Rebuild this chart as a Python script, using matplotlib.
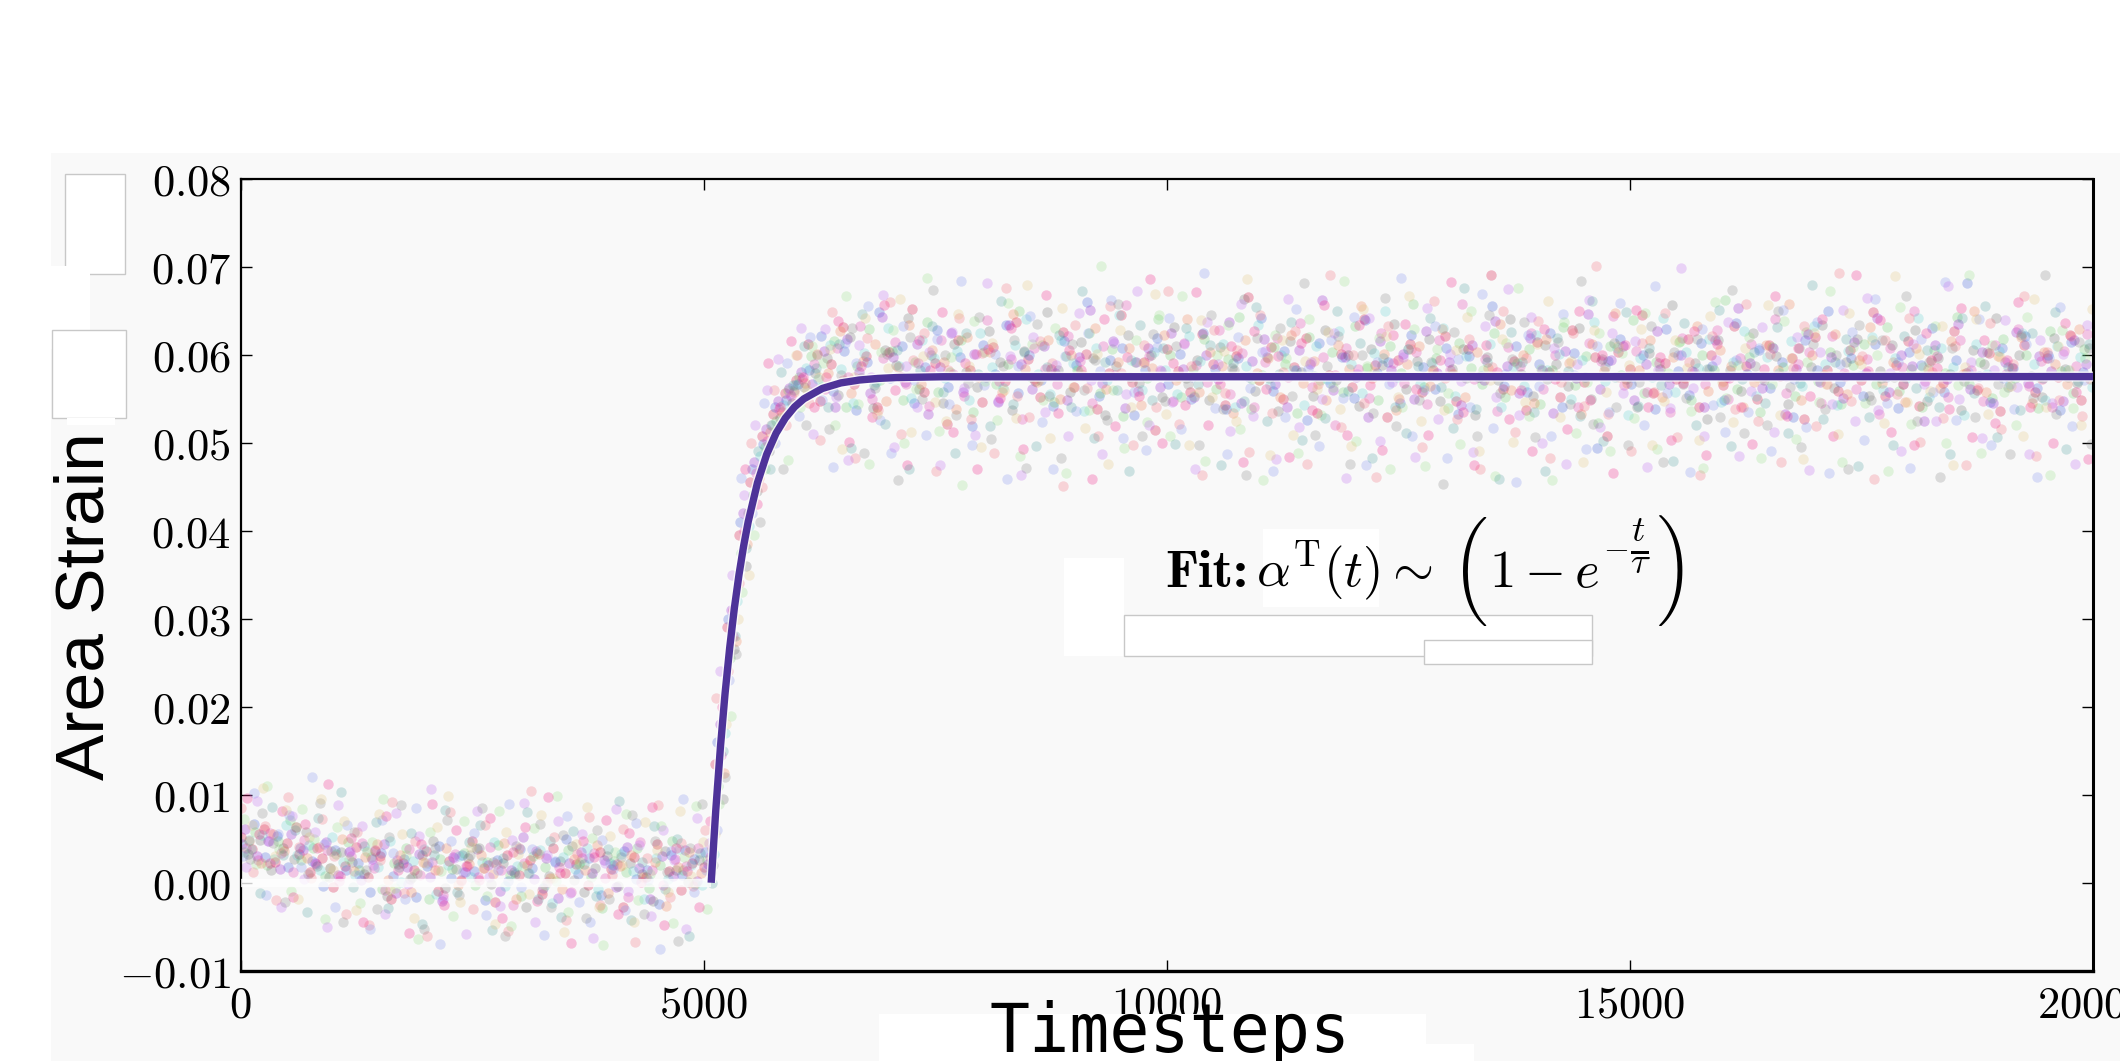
import numpy as np
import matplotlib
matplotlib.use('Agg')
import matplotlib.pyplot as plt
from matplotlib.patches import Rectangle
import matplotlib.patheffects as pe

plt.rcParams['mathtext.fontset'] = 'cm'

# ---------------- data ----------------
# sampling grid (timesteps) shared by all runs, each run sampled with its own offset
timesteps = np.arange(0, 20000, 125)
sample_offsets = [0, 16, 31, 47, 62, 78, 94, 109,
                  8, 23, 39, 55, 70, 86, 102, 117]

# area strain of each run, in units of 1e-4
run_crimson = [
    52, 38, 61, 24, 45, 33, 12, 28, -5, 19,
    41, 7, 30, -18, 22, 14, 36, -9, 25, 3,
    48, 17, -22, 31, 9, 26, -13, 40, 11, 21,
    -3, 35, 16, -27, 29, 6, 44, 13, -8, 23,
    18, 135, 290, 395, 455, 508, 532, 556, 571, 612,
    547, 589, 631, 566, 598, 540, 603, 575, 652, 558,
    590, 521, 617, 583, 546, 609, 570, 637, 595, 552,
    584, 626, 563, 601, 538, 579, 645, 569, 592, 514,
    606, 581, 557, 623, 589, 543, 598, 665, 571, 609,
    550, 586, 619, 534, 577, 601, 563, 640, 588, 529,
    594, 612, 558, 583, 621, 547, 606, 575, 690, 561,
    593, 537, 614, 580, 552, 628, 569, 597, 508, 603,
    584, 645, 556, 590, 572, 618, 541, 599, 565, 633,
    587, 549, 611, 576, 596, 527, 620, 582, 559, 605,
    571, 648, 553, 588, 615, 542, 594, 568, 627, 579,
    560, 602, 536, 585, 611, 557, 596, 574, 622, 548]
run_blue = [
    44, 67, 29, 53, 18, 40, 25, -4, 37, 15,
    22, -11, 34, 8, 27, -16, 19, 42, 5, 31,
    13, -20, 26, 2, 38, 17, -6, 24, 50, 10,
    28, -14, 20, 36, 4, 15, -24, 32, 9, 27,
    35, 160, 300, 410, 470, 498, 540, 548, 566, 583,
    621, 559, 604, 537, 592, 648, 573, 610, 545, 586,
    628, 563, 597, 519, 611, 578, 634, 556, 599, 571,
    542, 615, 588, 660, 553, 594, 607, 531, 582, 619,
    567, 601, 549, 625, 584, 538, 596, 574, 642, 559,
    604, 582, 526, 613, 568, 597, 551, 639, 579, 592,
    545, 622, 586, 561, 607, 533, 598, 576, 655, 564,
    610, 557, 589, 624, 541, 602, 575, 494, 593, 618,
    566, 600, 538, 629, 581, 554, 613, 587, 548, 636,
    578, 605, 562, 591, 529, 617, 583, 650, 569, 596,
    553, 612, 574, 539, 603, 588, 630, 557, 594, 681,
    576, 546, 608, 585, 621, 562, 599, 537, 614, 580]
run_green = [
    35, 58, 20, 47, 71, 26, 39, 8, 33, 46,
    14, 29, -7, 23, 40, 11, -19, 27, 16, 34,
    -2, 24, 43, 9, -15, 30, 18, 2, 37, 21,
    6, -29, 25, 12, 39, -6, 20, 47, 14, -1,
    26, 110, 255, 375, 440, 495, 525, 560, 575, 598,
    563, 615, 540, 587, 629, 571, 604, 548, 592, 637,
    558, 580, 616, 535, 603, 567, 589, 650, 574, 611,
    546, 598, 582, 625, 556, 606, 530, 591, 573, 640,
    600, 552, 584, 618, 561, 595, 643, 538, 577, 609,
    589, 534, 620, 571, 603, 557, 632, 585, 548, 610,
    579, 657, 563, 596, 539, 613, 585, 567, 624, 552,
    590, 606, 544, 583, 631, 565, 598, 522, 610, 577,
    639, 556, 592, 575, 614, 548, 600, 583, 662, 561,
    597, 535, 609, 586, 553, 626, 570, 603, 544, 588,
    612, 567, 631, 559, 584, 540, 605, 579, 643, 566,
    592, 551, 618, 573, 600, 539, 627, 581, 556, 606]
run_purple = [
    61, 30, 48, 16, 55, 37, 22, 46, 9, 35,
    3, 27, 44, -12, 18, 33, 6, -21, 29, 12,
    38, 20, -9, 15, 52, 4, 28, -17, 23, 35,
    11, 26, -5, 41, 17, -19, 30, 8, 37, 2,
    21, 180, 310, 420, 478, 515, 547, 562, 580, 566,
    604, 541, 618, 580, 556, 643, 597, 569, 612, 532,
    586, 624, 558, 601, 575, 546, 634, 589, 561, 610,
    579, 548, 597, 651, 568, 615, 539, 591, 607, 563,
    624, 584, 552, 600, 572, 637, 545, 593, 618, 566,
    540, 605, 589, 662, 560, 597, 574, 529, 615, 583,
    601, 550, 627, 579, 592, 543, 611, 571, 638, 587,
    556, 619, 582, 534, 604, 573, 646, 561, 594, 610,
    548, 589, 627, 566, 599, 581, 540, 617, 575, 653,
    590, 562, 608, 533, 584, 623, 569, 597, 551, 614,
    579, 641, 558, 600, 587, 524, 611, 572, 635, 561,
    603, 545, 592, 626, 568, 598, 581, 547, 617, 589]
run_magenta = [
    40, 26, 57, 34, 12, 49, 21, 37, 2, 30,
    45, 17, -8, 26, 38, 9, 24, -14, 33, 19,
    7, 41, 15, -25, 22, 36, 1, 18, -11, 28,
    34, 5, 21, -16, 46, 14, -2, 27, 19, 39,
    29, 145, 280, 400, 465, 502, 538, 553, 572, 589,
    561, 608, 575, 633, 549, 596, 614, 566, 590, 542,
    617, 578, 553, 601, 639, 570, 595, 527, 608, 584,
    566, 621, 593, 545, 610, 577, 656, 559, 598, 581,
    547, 613, 588, 569, 628, 555, 602, 541, 592, 619,
    575, 636, 563, 597, 520, 607, 584, 551, 624, 590,
    568, 603, 544, 617, 583, 658, 572, 595, 536, 609,
    587, 625, 561, 600, 576, 541, 613, 593, 644, 565,
    604, 558, 590, 535, 619, 580, 567, 628, 549, 596,
    612, 574, 640, 556, 589, 603, 545, 621, 579, 561,
    595, 532, 608, 586, 650, 570, 598, 552, 616, 583,
    547, 611, 578, 629, 564, 593, 540, 604, 587, 623]
run_gray = [
    33, 49, 14, 40, 27, 58, 19, 6, 35, 24,
    10, 36, -15, 21, 4, 31, 47, -6, 16, 28,
    39, -1, 23, 12, -28, 34, 8, 25, 42, -10,
    17, 30, -4, 22, 10, -21, 36, 15, 1, 26,
    12, 95, 265, 360, 445, 490, 528, 545, 563, 579,
    596, 554, 620, 573, 539, 605, 588, 641, 561, 599,
    545, 612, 580, 563, 627, 591, 537, 604, 570, 648,
    582, 557, 614, 596, 531, 587, 622, 568, 600, 552,
    631, 573, 594, 548, 609, 585, 663, 559, 597, 536,
    615, 580, 553, 628, 571, 599, 542, 606, 588, 635,
    561, 593, 618, 547, 584, 606, 531, 597, 571, 640,
    578, 553, 611, 589, 564, 630, 549, 595, 613, 572,
    540, 602, 584, 656, 567, 590, 527, 616, 583, 559,
    625, 571, 598, 544, 607, 586, 634, 562, 592, 618,
    553, 581, 611, 566, 628, 547, 596, 578, 537, 605,
    589, 642, 563, 600, 576, 552, 619, 584, 568, 608]
run_orange = [
    47, 22, 55, 36, 63, 28, 41, 17, 50, 13,
    29, 44, 3, 32, -10, 24, 15, 39, -3, 21,
    31, 10, 45, -18, 20, 33, 5, -7, 27, 14,
    43, -12, 19, 32, 7, 24, -26, 18, 35, 11,
    40, 125, 275, 385, 460, 512, 535, 558, 568, 601,
    579, 627, 556, 593, 612, 547, 586, 634, 566, 605,
    591, 538, 620, 575, 603, 557, 646, 584, 569, 616,
    549, 599, 577, 630, 561, 592, 608, 543, 585, 622,
    571, 640, 558, 603, 587, 534, 616, 579, 596, 552,
    622, 568, 593, 548, 611, 584, 655, 573, 601, 537,
    589, 610, 564, 629, 578, 552, 603, 585, 635, 560,
    599, 545, 618, 576, 590, 533, 612, 581, 647, 568,
    583, 616, 552, 597, 573, 633, 559, 605, 587, 541,
    569, 611, 582, 658, 548, 600, 577, 623, 555, 594,
    631, 568, 592, 546, 607, 584, 562, 615, 578, 650,
    558, 598, 574, 620, 545, 603, 589, 566, 629, 572]
run_cyan = [
    38, 54, 27, 66, 31, 43, 15, 52, 24, 9,
    36, 18, 47, 1, 25, 38, -13, 20, 30, 7,
    24, 46, -4, 19, 11, 37, -23, 29, 16, 40,
    -7, 22, 33, 13, -18, 28, 4, 38, 20, -3,
    33, 170, 320, 405, 485, 520, 543, 565, 585, 572,
    611, 584, 545, 602, 569, 630, 587, 551, 616, 596,
    573, 604, 548, 625, 586, 562, 611, 640, 578, 555,
    617, 590, 536, 608, 571, 645, 594, 560, 603, 582,
    555, 621, 593, 576, 612, 541, 587, 634, 565, 599,
    582, 543, 610, 572, 627, 589, 556, 602, 649, 574,
    606, 567, 590, 630, 553, 598, 575, 612, 540, 586,
    564, 622, 583, 601, 550, 594, 637, 570, 608, 531,
    596, 575, 641, 558, 603, 585, 618, 546, 592, 627,
    553, 597, 579, 615, 564, 633, 589, 543, 604, 576,
    620, 560, 596, 573, 641, 552, 607, 586, 531, 612,
    578, 604, 566, 624, 589, 548, 610, 582, 597, 563]
run_salmon = [
    85, 12, 64, -20, 97, 41, 5, 73, 30, -35,
    58, -48, 26, 92, -12, 47, -61, 15, 80, 2,
    -30, 66, 21, -55, 39, 104, -8, 52, -42, 33,
    75, -25, 9, 61, -67, 28, 88, -16, 45, -4,
    60, 210, 240, 340, 500, 450, 560, 520, 600, 545,
    503, 648, 571, 482, 619, 537, 660, 510, 594, 625,
    468, 583, 641, 527, 602, 488, 676, 553, 529, 615,
    590, 451, 634, 562, 508, 655, 579, 497, 611, 540,
    672, 521, 587, 463, 628, 556, 605, 489, 645, 534,
    580, 627, 476, 566, 690, 518, 599, 545, 461, 632,
    550, 606, 495, 661, 573, 527, 618, 470, 586, 649,
    512, 596, 638, 483, 569, 625, 542, 701, 533, 575,
    491, 613, 558, 647, 506, 592, 463, 621, 570, 538,
    657, 524, 601, 478, 585, 633, 519, 566, 693, 547,
    598, 459, 616, 555, 642, 501, 580, 528, 610, 474,
    562, 636, 515, 589, 667, 485, 603, 548, 621, 530]
run_skyblue = [
    30, 102, -14, 55, 77, 18, 120, 44, -27, 66,
    9, -52, 71, 34, -18, 85, 23, -70, 48, 12,
    57, -37, 14, 90, -5, 38, -59, 25, 76, -22,
    -44, 49, 16, -31, 68, 3, -75, 36, 95, -11,
    15, 60, 230, 460, 420, 545, 500, 590, 530, 620,
    548, 472, 613, 590, 655, 526, 488, 632, 571, 509,
    618, 544, 683, 497, 565, 601, 459, 587, 644, 523,
    470, 598, 536, 624, 581, 662, 505, 558, 492, 609,
    641, 515, 575, 693, 539, 487, 620, 562, 603, 468,
    529, 652, 584, 496, 617, 551, 643, 475, 592, 566,
    687, 508, 560, 633, 482, 595, 541, 669, 517, 578,
    455, 622, 564, 508, 646, 577, 493, 610, 535, 659,
    574, 520, 678, 556, 600, 467, 629, 543, 512, 594,
    535, 607, 490, 651, 572, 518, 637, 466, 589, 626,
    503, 663, 545, 592, 471, 618, 557, 682, 526, 580,
    640, 497, 573, 538, 612, 461, 596, 654, 519, 571]
run_lightgreen = [
    72, 21, 110, 38, -9, 84, 50, -41, 63, 27,
    -23, 46, 95, -6, 31, -64, 58, 13, -38, 70,
    40, -15, 82, -49, 19, 62, -2, 99, -33, 24,
    51, -71, 35, 78, -20, 10, 65, -46, 29, 87,
    -30, 90, 190, 330, 395, 470, 515, 480, 540, 610,
    590, 520, 667, 544, 476, 603, 628, 499, 561, 687,
    513, 597, 452, 638, 570, 526, 659, 485, 612, 548,
    630, 466, 581, 537, 701, 560, 494, 616, 523, 645,
    507, 666, 553, 479, 599, 634, 516, 572, 457, 622,
    596, 488, 640, 531, 563, 684, 502, 587, 619, 470,
    541, 629, 473, 606, 556, 498, 650, 582, 462, 613,
    676, 530, 584, 457, 637, 511, 569, 625, 490, 602,
    528, 647, 493, 579, 615, 536, 471, 660, 551, 588,
    620, 482, 567, 638, 504, 592, 546, 672, 478, 609,
    545, 600, 468, 654, 521, 586, 633, 499, 565, 690,
    488, 611, 557, 520, 643, 575, 463, 628, 539, 596]
run_violet = [
    18, 93, 47, -28, 76, 4, 58, -50, 88, 36,
    64, 20, -36, 79, -1, 53, 107, -19, 28, -58,
    81, 7, -26, 49, 91, -45, 32, 70, -12, 55,
    -63, 22, 84, -9, 43, -38, 60, 26, -52, 74,
    45, 240, 350, 440, 520, 560, 595, 555, 630, 510,
    629, 552, 480, 611, 574, 668, 495, 587, 540, 603,
    475, 626, 562, 509, 681, 547, 598, 463, 620, 535,
    588, 508, 647, 571, 487, 613, 555, 672, 520, 583,
    546, 612, 470, 637, 589, 513, 658, 530, 604, 481,
    663, 518, 592, 549, 624, 460, 578, 641, 502, 569,
    597, 484, 653, 527, 601, 570, 489, 632, 552, 675,
    531, 643, 500, 607, 476, 589, 662, 518, 624, 556,
    615, 472, 583, 539, 698, 562, 507, 594, 637, 485,
    559, 631, 512, 576, 620, 469, 603, 544, 651, 525,
    664, 537, 579, 490, 612, 566, 524, 678, 549, 591,
    505, 582, 639, 563, 487, 616, 545, 601, 476, 634]
run_deeppink = [
    96, 55, 23, 81, -16, 67, 39, 112, 8, 51,
    -44, 37, 76, 14, -57, 44, 89, -25, 60, 19,
    3, 74, -40, 35, 63, -21, 97, 11, -68, 47,
    29, 71, -35, 56, 1, 86, -48, 40, 13, -27,
    70, 200, 310, 470, 430, 590, 540, 615, 575, 540,
    574, 638, 501, 587, 529, 656, 560, 474, 617, 583,
    648, 512, 590, 470, 606, 551, 630, 493, 572, 668,
    534, 605, 583, 459, 640, 519, 597, 553, 686, 500,
    590, 543, 671, 520, 566, 610, 478, 627, 561, 598,
    484, 613, 537, 656, 577, 509, 634, 565, 492, 622,
    635, 561, 509, 594, 682, 535, 474, 611, 580, 527,
    560, 491, 629, 572, 516, 649, 548, 599, 465, 611,
    651, 541, 597, 503, 568, 627, 486, 612, 573, 540,
    498, 584, 667, 530, 608, 553, 640, 507, 576, 690,
    581, 639, 512, 567, 497, 624, 585, 538, 653, 506,
    617, 522, 594, 660, 541, 572, 499, 636, 558, 481]
run_teal = [
    49, -12, 86, 31, 60, -33, 74, 17, 103, -5,
    42, 69, -29, 18, 57, -47, 31, 83, -10, 46,
    66, -54, 28, 10, 80, -18, 47, -39, 59, 21,
    -15, 38, 93, -42, 24, 64, -7, 50, -60, 34,
    0, 150, 280, 380, 490, 470, 580, 565, 610, 585,
    540, 612, 494, 646, 565, 521, 605, 470, 583, 632,
    557, 488, 624, 578, 519, 661, 544, 603, 496, 586,
    622, 541, 672, 505, 592, 560, 468, 634, 548, 607,
    498, 630, 566, 611, 475, 590, 547, 654, 525, 578,
    637, 503, 576, 528, 649, 559, 613, 482, 596, 540,
    511, 587, 642, 563, 517, 676, 538, 591, 459, 626,
    592, 535, 468, 619, 581, 530, 661, 502, 574, 648,
    542, 608, 565, 479, 636, 520, 584, 651, 496, 572,
    603, 545, 631, 511, 568, 679, 527, 592, 618, 473,
    529, 573, 497, 621, 562, 605, 540, 487, 641, 556,
    655, 506, 586, 537, 624, 573, 648, 493, 570, 612]
run_darkgray = [
    27, 79, 45, -22, 63, 10, 91, 36, -45, 58,
    15, -30, 52, 88, 6, -53, 40, 71, -14, 32,
    85, 24, -61, 42, 11, 67, -27, 54, 3, -40,
    60, -18, 29, 77, -36, 48, 12, -66, 39, 90,
    20, 120, 260, 420, 410, 520, 470, 560, 520, 600,
    515, 577, 630, 488, 562, 601, 458, 620, 549, 673,
    599, 531, 568, 643, 504, 587, 616, 471, 635, 553,
    482, 612, 560, 594, 526, 658, 575, 508, 623, 547,
    610, 567, 497, 645, 538, 582, 463, 619, 573, 630,
    553, 681, 509, 587, 621, 476, 600, 534, 664, 519,
    606, 548, 592, 453, 626, 573, 508, 645, 556, 595,
    637, 506, 572, 614, 544, 683, 521, 586, 540, 497,
    569, 632, 478, 603, 551, 618, 584, 529, 673, 511,
    587, 520, 649, 563, 495, 612, 538, 599, 470, 634,
    548, 616, 575, 667, 524, 592, 461, 607, 570, 529,
    603, 567, 487, 622, 551, 690, 532, 575, 614, 498]
run_tan = [
    66, 108, 30, 83, -19, 52, 95, 14, 70, -31,
    35, 78, -8, 55, -40, 22, 63, 98, -22, 41,
    17, -47, 58, 33, -13, 77, 5, -56, 44, 86,
    -28, 53, 20, -44, 69, 37, -11, 82, 8, 46,
    55, 180, 300, 350, 470, 500, 530, 600, 560, 575,
    606, 493, 574, 641, 532, 585, 663, 512, 598, 546,
    524, 646, 587, 495, 613, 560, 528, 679, 571, 505,
    653, 563, 517, 601, 476, 628, 541, 590, 669, 532,
    575, 497, 639, 552, 604, 524, 686, 571, 486, 617,
    509, 593, 561, 626, 538, 496, 652, 580, 621, 552,
    667, 524, 581, 537, 605, 643, 490, 571, 618, 501,
    546, 612, 661, 529, 593, 478, 628, 557, 610, 588,
    629, 497, 547, 616, 585, 503, 644, 569, 523, 607,
    574, 656, 531, 596, 481, 625, 566, 510, 647, 589,
    617, 522, 689, 546, 601, 559, 633, 475, 586, 640,
    533, 597, 564, 507, 663, 540, 610, 583, 520, 652]

runs = [run_crimson, run_blue, run_green, run_purple,
        run_magenta, run_gray, run_orange, run_cyan,
        run_salmon, run_skyblue, run_lightgreen, run_violet,
        run_deeppink, run_teal, run_darkgray, run_tan]
run_colors = ['#d81b4a', '#3b5bdb', '#5cc85c', '#9b30d0',
              '#e040b0', '#505050', '#f07848', '#40c8c8',
              '#f26d7d', '#7a8cf0', '#8ede7e', '#c070f0',
              '#f0288a', '#309090', '#707070', '#e0c070']
run_alpha = [0.3, 0.27, 0.24, 0.3, 0.28, 0.22, 0.26, 0.22,
             0.27, 0.25, 0.24, 0.28, 0.28, 0.22, 0.22, 0.24]

# fitted curve  alpha^T(t) ~ (1 - exp(-t/tau))
fit_t = [5080, 5130, 5180, 5230, 5280, 5330, 5380, 5430, 5480, 5580, 5680,
         5780, 5880, 5980, 6080, 6280, 6480, 6680, 6880, 7080, 7580, 20000]
fit_strain = [0.0, 0.00832, 0.01543, 0.02152, 0.02672, 0.03118, 0.03498,
              0.03824, 0.04103, 0.04545, 0.04868, 0.05105, 0.05278, 0.05405,
              0.05497, 0.05615, 0.05678, 0.05711, 0.05729, 0.05739, 0.05748,
              0.0575]
baseline_t = [0, 5080]
baseline_strain = [0.0, 0.0]

x_ticks = [0, 5000, 10000, 15000, 20000]
y_ticks = [-0.01, 0.0, 0.01, 0.02, 0.03, 0.04, 0.05, 0.06, 0.07, 0.08]

# ---------------- figure ----------------
W, H = 2120, 1061
fig = plt.figure(figsize=(W / 100, H / 100), dpi=100, facecolor='white')


def px_rect(x0, y0, x1, y1, fc, ec='none', z=0.5):
    fig.patches.append(Rectangle((x0 / W, 1 - y1 / H), (x1 - x0) / W, (y1 - y0) / H,
                                 transform=fig.transFigure, facecolor=fc,
                                 edgecolor=ec, lw=1, zorder=z))


px_rect(51, 153, 2125, 1065, '#f9f9f9', z=-5)

ax = fig.add_axes([240.7 / W, 1 - 970.8 / H, (2093 - 240.7) / W, (970.8 - 178.5) / H])
ax.set_facecolor('#f9f9f9')

for vals, off, col, a in zip(runs, sample_offsets, run_colors, run_alpha):
    t = timesteps[:len(vals)] + off
    ax.scatter(t, np.array(vals) * 1e-4, s=56, color=col, alpha=a,
               linewidths=0, zorder=2)

ax.plot(baseline_t, baseline_strain, color='white', lw=6, alpha=0.8,
        solid_capstyle='butt', zorder=3)
ax.plot(fit_t, fit_strain, color='#4e3399', lw=5.3, solid_capstyle='butt', zorder=4,
        path_effects=[pe.Stroke(linewidth=7.3, foreground='white', alpha=0.8), pe.Normal()])

ax.set_xlim(0, 20000)
ax.set_ylim(-0.01, 0.08)
ax.set_xticks(x_ticks)
ax.set_xticklabels(['$%d$' % v for v in x_ticks])
ax.set_yticks(y_ticks)
ax.set_yticklabels(['$%.2f$' % v for v in y_ticks])
ax.tick_params(axis='both', direction='in', length=8, width=1, color='black',
               top=True, right=True, labelsize=32)
ax.tick_params(axis='x', pad=9)
ax.tick_params(axis='y', pad=7)
for side, lw in [('top', 1.6), ('bottom', 2.4), ('left', 1.6), ('right', 2.2)]:
    ax.spines[side].set_linewidth(lw)
    ax.spines[side].set_color('black')

# white patches left in the source image
px_rect(65, 174, 125, 274, 'white', ec='#c8c8c8', z=1)
px_rect(51, 266, 90, 349, 'white', z=1)
px_rect(52, 330, 126, 418, 'white', ec='#c8c8c8', z=1)
px_rect(67, 418, 115, 425, 'white', z=1)
px_rect(1064, 558, 1124, 656, 'white', z=1)
px_rect(1124, 615, 1592, 656, 'white', ec='#c8c8c8', z=1)
px_rect(1424, 640, 1592, 664, 'white', ec='#c8c8c8', z=1)
px_rect(1263, 529, 1379, 607, 'white', z=1)
px_rect(879, 1014, 1426, 1070, 'white', z=1)
px_rect(1426, 1044, 1474, 1070, 'white', z=1)

fig.text(86 / W, 1 - 606 / H, 'Area Strain', rotation=90, ha='center', va='center',
         fontsize=50, family='Liberation Sans', zorder=3)
fig.text(1170 / W, 1 - 1000 / H, 'Timesteps', ha='center', va='top',
         fontsize=48, family='DejaVu Sans Mono', zorder=3)

# fit annotation, laid out piece by piece so the big parentheses can be drawn
renderer = fig.canvas.get_renderer()
fit_parts = [
    ('Fit:', dict(family='cmb10'), 587, 8),
    (r'$\alpha^{\mathrm{T}}(t)\sim$', dict(), 587, 20),
    ('\xb3', dict(family='cmex10', va='center', fontsize=44), 571, 0),
    (r'$1-e$', dict(), 587, 3),
    (r'$-$', dict(fontsize=24, va='center'), 548, 2),
    (r'$\frac{t}{\tau}$', dict(fontsize=38, va='center'), 546, 6),
    ('\xb4', dict(family='cmex10', va='center', fontsize=44), 571, 0),
]
fit_texts = []
xcur = 0.0
x_first = None
x_last = None
for s, kw, ybase, gap in fit_parts:
    opts = dict(fontsize=38, va='baseline', ha='left', zorder=3)
    opts.update(kw)
    tx = fig.text(xcur / W, 1 - ybase / H, s, **opts)
    bb = tx.get_window_extent(renderer)
    if x_first is None:
        x_first = bb.x0
    x_last = bb.x1
    fit_texts.append(tx)
    xcur = bb.x1 + gap
shift = 1429 - (x_first + x_last) / 2
for tx in fit_texts:
    px, py = tx.get_position()
    tx.set_position((px + shift / W, py))

fig.savefig('out.png', dpi=100, facecolor='white')
